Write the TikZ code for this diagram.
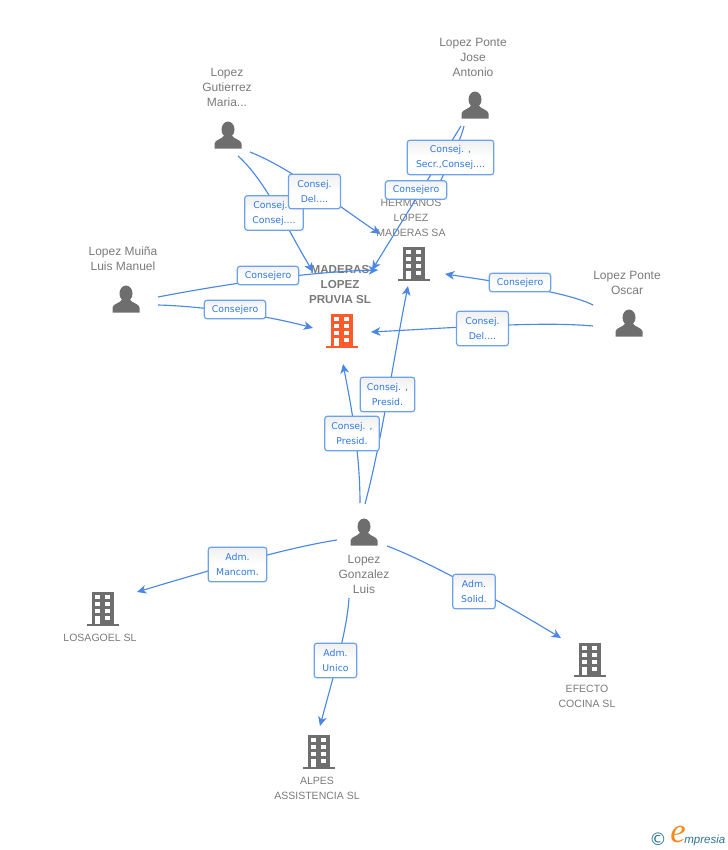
\documentclass[tikz,border=0pt]{standalone}
\usepackage{fontspec}
\setmainfont{Liberation Sans}
\newfontfamily\boxfont{DejaVu Sans}
\newfontfamily\logofont{Liberation Serif}
\usetikzlibrary{arrows.meta}
\pgfdeclarelayer{names}
\pgfdeclarelayer{links}
\pgfsetlayers{names,links,main}
\definecolor{iconGray}{HTML}{6E6E6E}
\definecolor{textGray}{HTML}{7A7A7A}
\definecolor{linkBlue}{HTML}{4A88E4}
\definecolor{boxBlue}{HTML}{6CA2EA}
\definecolor{boxText}{HTML}{2F78E0}
\definecolor{mainOrange}{HTML}{FF5A2B}
\definecolor{logoTeal}{HTML}{2F7493}
\definecolor{logoOrange}{HTML}{F58A1F}
\tikzset{
  link/.style={color=linkBlue, line width=0.85pt, -{Stealth[length=7pt,width=6.5pt,inset=2pt]}},
  rolebox/.style={draw=boxBlue, line width=0.9pt, rounded corners=2.2pt, top color=black!6, bottom color=white,
    middle color=white, align=center, inner sep=0pt, text=boxText, font=\boxfont\fontsize{7}{11.25}\selectfont},
  personname/.style={align=center, text=textGray, font=\fontsize{9}{11.25}\selectfont},
  companyname/.style={align=center, text=textGray, font=\fontsize{7.9}{11.25}\selectfont},
  mainname/.style={align=center, text=textGray, font=\bfseries\fontsize{8.7}{11.25}\selectfont},
  pics/personicon/.style={code={
    \fill[iconGray] (0,-5.5) ellipse (6.5 and 8);
    \fill[iconGray] (-13.5,13.5) -- (-13.5,8.5) .. controls (-13,4.5) and (-6,4.5) .. (-3.5,0)
      -- (3.5,0) .. controls (6,4.5) and (13,4.5) .. (13.5,8.5) -- (13.5,13.5) -- cycle;
  }},
  pics/buildingicon/.style={code={
    \fill[#1] (-11,-17) rectangle (11,15);
    \fill[#1] (-16,14.5) rectangle (16,17);
    \foreach \wy in {-13.7,-7,-0.3} {
      \fill[white] (-7.7,\wy) rectangle (-3,\wy+4);
      \fill[white] (2.3,\wy) rectangle (7,\wy+4);
    }
    \fill[white] (-7.7,6.7) rectangle (-3,14.5);
    \fill[white] (2.3,6.7) rectangle (7,10.7);
  }},
}
\begin{document}
\begin{tikzpicture}[x=0.75pt,y=-0.75pt]
  \useasboundingbox (0,0) rectangle (728,850);

  % icons
  \pic at (228,135) {personicon};
  \pic at (475,105) {personicon};
  \pic at (126,299) {personicon};
  \pic at (629,323) {personicon};
  \pic at (364,532) {personicon};
  \pic at (414,264) {buildingicon=iconGray};
  \pic at (342,331) {buildingicon=mainOrange};
  \pic at (103,609) {buildingicon=iconGray};
  \pic at (319,752) {buildingicon=iconGray};
  \pic at (590,660) {buildingicon=iconGray};

  % names
  \begin{pgfonlayer}{names}
  \node[personname] (gutierrez) at (227,87) {Lopez\\Gutierrez\\Maria...};
  \node[personname] (joseantonio) at (473,57) {Lopez Ponte\\Jose\\Antonio};
  \node[personname] (muina) at (123,258.5) {Lopez Muiña\\Luis Manuel};
  \node[personname] (oscar) at (627,282.5) {Lopez Ponte\\Oscar};
  \node[personname] (luis) at (364,574) {Lopez\\Gonzalez\\Luis};
  \node[companyname] (hermanos) at (411,218) {HERMANOS\\LOPEZ\\MADERAS SA};
  \node[mainname] (pruvia) at (340,285) {MADERAS\\LOPEZ\\PRUVIA SL};
  \node[companyname] (losagoel) at (100,638) {LOSAGOEL SL};
  \node[companyname] (alpes) at (317,788.5) {ALPES\\ASSISTENCIA SL};
  \node[companyname] (efecto) at (587,696.5) {EFECTO\\COCINA SL};
  \end{pgfonlayer}

  % free ends of the connectors
  \coordinate (gutierrezA) at (238,156);
  \coordinate (gutierrezB) at (250,152);
  \coordinate (joseA) at (461,126);
  \coordinate (joseB) at (464,126);
  \coordinate (muinaA) at (158,297);
  \coordinate (muinaB) at (158,305);
  \coordinate (oscarA) at (593,305);
  \coordinate (oscarB) at (593,326);
  \coordinate (luisA) at (365,504);
  \coordinate (luisB) at (360,503);
  \coordinate (luisC) at (337,540);
  \coordinate (luisD) at (349,598);
  \coordinate (luisE) at (387,546);
  \coordinate (pruviaTopL) at (313,272);
  \coordinate (pruviaTopR) at (372,270);
  \coordinate (pruviaL) at (313,328);
  \coordinate (pruviaR) at (371,332);
  \coordinate (pruviaB) at (343,364);
  \coordinate (hermanosT) at (435,192);
  \coordinate (hermanosNW) at (380,234);
  \coordinate (hermanosW) at (378,270);
  \coordinate (hermanosE) at (445,274);
  \coordinate (hermanosB) at (408,286);
  \coordinate (losagoelE) at (137,592);
  \coordinate (alpesT) at (320,726);
  \coordinate (efectoT) at (561,638);

  % connectors
  \begin{pgfonlayer}{links}
  \draw[link] (gutierrezA) .. controls (265,180) and (285,225) .. (pruviaTopL);
  \draw[link] (gutierrezB) .. controls (290,168) and (330,200) .. (hermanosNW);
  \draw[link] (joseA) -- (pruviaTopR);
  \draw[link] (joseB) .. controls (461,140) and (445,172) .. (hermanosT);
  \draw[link] (muinaA) .. controls (210,287) and (300,272) .. (hermanosW);
  \draw[link] (muinaB) .. controls (200,306) and (265,315) .. (pruviaL);
  \draw[link] (oscarA) .. controls (570,293) and (500,282) .. (hermanosE);
  \draw[link] (oscarB) .. controls (540,321) and (450,328) .. (pruviaR);
  \draw[link] (luisA) .. controls (382,440) and (395,350) .. (hermanosB);
  \draw[link] (luisB) .. controls (360,450) and (350,400) .. (pruviaB);
  \draw[link] (luisC) .. controls (290,547) and (210,570) .. (losagoelE);
  \draw[link] (luisD) .. controls (347,630) and (335,670) .. (alpesT);
  \draw[link] (luisE) .. controls (420,558) and (490,595) .. (efectoT);
  \end{pgfonlayer}

  % role boxes
  \node[rolebox, minimum width=44pt, minimum height=26pt] (roleA) at (274,213) {Consej. ,\\Consej....};
  \node[rolebox, minimum width=65pt, minimum height=26pt] (roleC) at (450.5,157.5) {Consej. ,\\Secr.,Consej....};
  \node[rolebox, minimum width=46pt, minimum height=14pt] (roleD) at (416,190) {Consejero};
  \node[rolebox, minimum width=39pt, minimum height=26pt] (roleB) at (314.5,191.5) {Consej.\\Del....};
  \node[rolebox, minimum width=46pt, minimum height=14pt] (roleE) at (268,275.5) {Consejero};
  \node[rolebox, minimum width=46pt, minimum height=14pt] (roleF) at (235,309.5) {Consejero};
  \node[rolebox, minimum width=46pt, minimum height=14pt] (roleG) at (520,282.5) {Consejero};
  \node[rolebox, minimum width=39pt, minimum height=26pt] (roleH) at (482.5,328.5) {Consej.\\Del....};
  \node[rolebox, minimum width=41pt, minimum height=26pt] (roleJ) at (352,433.5) {Consej. ,\\Presid.};
  \node[rolebox, minimum width=41pt, minimum height=26pt] (roleI) at (387.5,394.5) {Consej. ,\\Presid.};
  \node[rolebox, minimum width=44pt, minimum height=26pt] (roleK) at (237.5,564.5) {Adm.\\Mancom.};
  \node[rolebox, minimum width=32pt, minimum height=26pt] (roleL) at (335.5,660.5) {Adm.\\Unico};
  \node[rolebox, minimum width=32pt, minimum height=26pt] (roleM) at (474,591.5) {Adm.\\Solid.};

  % logo
  \node[text=logoTeal, font=\boxfont\fontsize{13}{13}\selectfont] (copyright) at (658,839) {©};
  \node[text=logoOrange, font=\logofont\itshape\fontsize{26}{26}\selectfont] (logoe) at (678,834) {e};
  \node[text=logoTeal, anchor=west, inner sep=0pt, font=\itshape\fontsize{8.65}{10}\selectfont] (logotext) at (684,841) {mpresia};
\end{tikzpicture}
\end{document}
